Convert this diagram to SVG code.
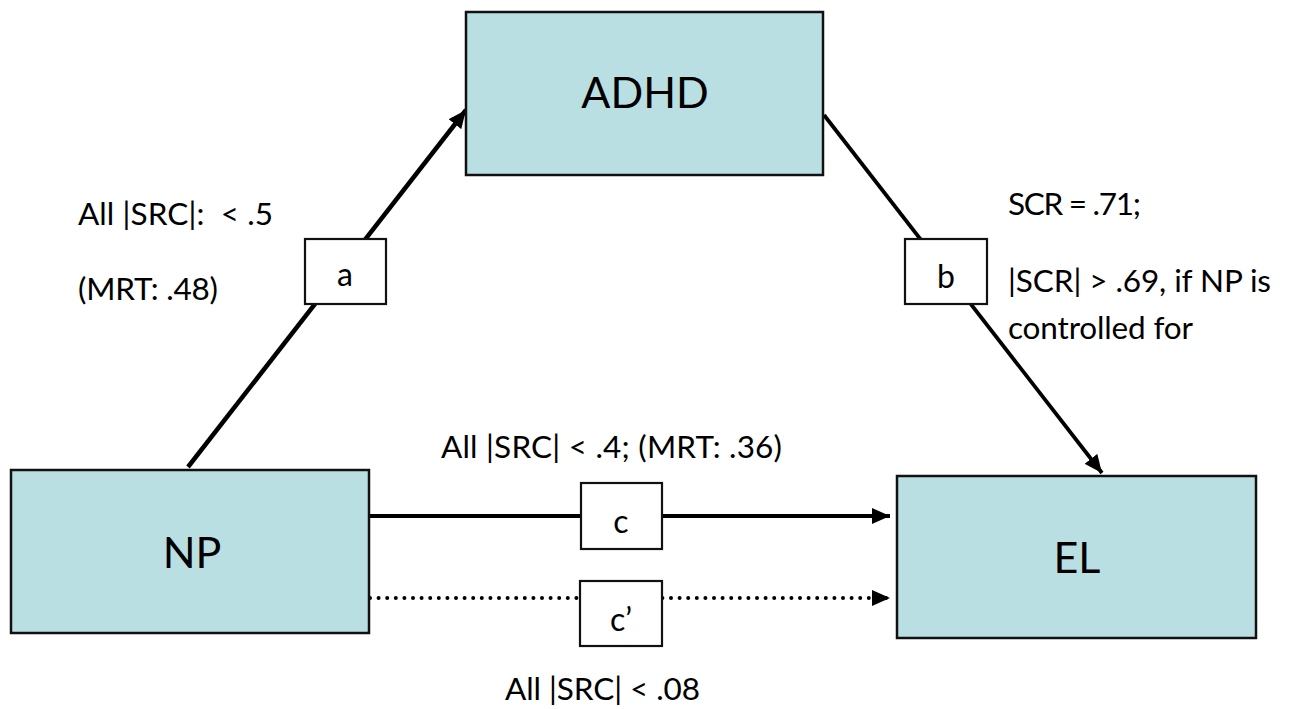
<svg xmlns="http://www.w3.org/2000/svg" width="1290" height="709" viewBox="0 0 1290 709">
<style>
.node{fill:#b9dfe2;stroke:#111;stroke-width:2.5}
.lbl{fill:#fff;stroke:#111;stroke-width:2.2}
.big{font-family:Lato,"Liberation Sans",sans-serif;font-size:43px;fill:#000;text-anchor:middle}
.t{font-family:Lato,"Liberation Sans",sans-serif;font-size:31.5px;fill:#000}
.tc{font-family:Lato,"Liberation Sans",sans-serif;font-size:32px;fill:#000;text-anchor:middle}
.ln{stroke:#000;fill:none}
</style>
<defs>
<marker id="arr" markerUnits="userSpaceOnUse" markerWidth="20" markerHeight="16" refX="18" refY="8" orient="auto">
<path d="M0,0 L18,8 L0,16 z" fill="#000"/>
</marker>
</defs>
<rect width="1290" height="709" fill="#fff"/>
<g id="connectors">
<line class="ln" x1="188" y1="467" x2="466" y2="110" stroke-width="4.5" marker-end="url(#arr)"/>
<line class="ln" x1="824" y1="115" x2="1102" y2="473" stroke-width="3.8" marker-end="url(#arr)"/>
<line class="ln" x1="370" y1="516" x2="890" y2="516" stroke-width="4" marker-end="url(#arr)"/>
<line class="ln" x1="370" y1="598" x2="890" y2="598" stroke-width="4" stroke-linecap="round" stroke-dasharray="0 8.6" marker-end="url(#arr)"/>
</g>
<g id="node-adhd">
<rect class="node" x="466" y="12" width="357" height="163"/>
<text class="big" x="645" y="108">ADHD</text>
</g>
<g id="node-np">
<rect class="node" x="11" y="470" width="358" height="163"/>
<text class="big" x="192" y="568">NP</text>
</g>
<g id="node-el">
<rect class="node" x="897" y="476" width="359" height="162"/>
<text class="big" x="1077" y="573">EL</text>
</g>
<g id="label-a">
<rect class="lbl" x="305" y="239" width="81" height="65"/>
<text class="tc" x="345" y="286">a</text>
</g>
<g id="label-b">
<rect class="lbl" x="905" y="239" width="82" height="65"/>
<text class="tc" x="946" y="288">b</text>
</g>
<g id="label-c">
<rect class="lbl" x="581" y="483" width="81" height="66"/>
<text class="tc" x="621" y="533">c</text>
</g>
<g id="label-c-prime">
<rect class="lbl" x="580" y="581" width="82" height="65"/>
<text class="tc" x="621" y="631">c’</text>
</g>
<g id="annotations">
<text class="t" x="78" y="225" xml:space="preserve" textLength="195">All |SRC|:  &lt; .5</text>
<text class="t" x="78" y="300" textLength="140">(MRT: .48)</text>
<text class="t" x="1008" y="215" textLength="133">SCR = .71;</text>
<text class="t" x="1008" y="292" textLength="263">|SCR| &gt; .69, if NP is</text>
<text class="t" x="1008" y="339" textLength="185">controlled for</text>
<text class="t" x="441" y="458" textLength="341">All |SRC| &lt; .4; (MRT: .36)</text>
<text class="t" x="505" y="700" textLength="195">All |SRC| &lt; .08</text>
</g>
</svg>
